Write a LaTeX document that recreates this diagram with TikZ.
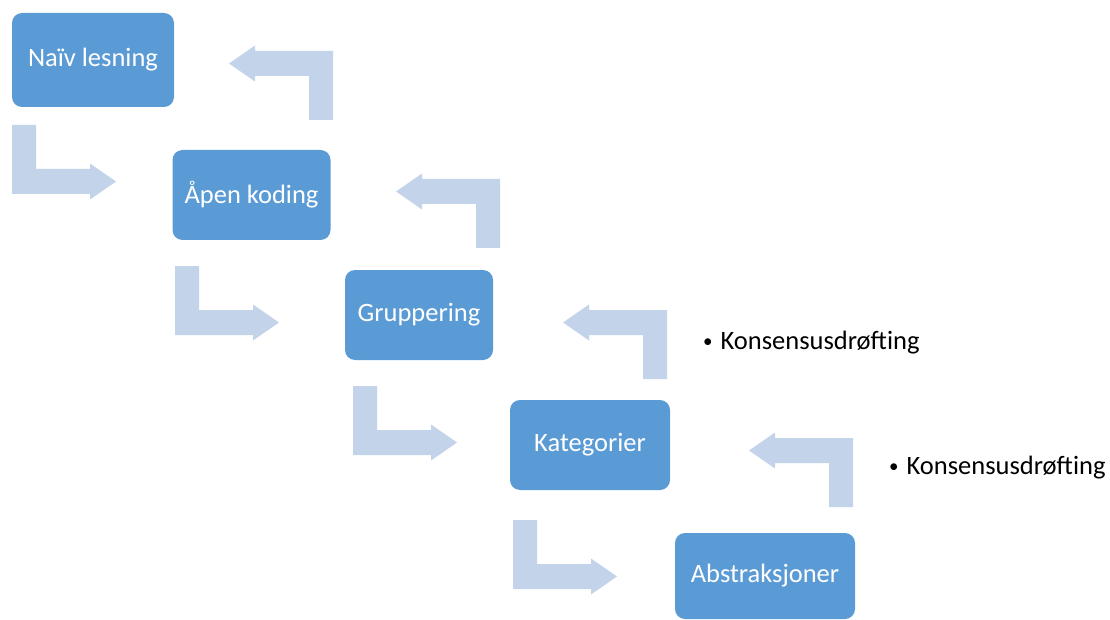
\documentclass[tikz,border=0pt]{standalone}
\usepackage{fontspec}
\setmainfont{Carlito}
\usetikzlibrary{positioning}
\definecolor{boxblue}{HTML}{5B9BD5}
\definecolor{arrowblue}{HTML}{C3D4EA}

\newcommand{\notedot}{\raisebox{2pt}{\fontsize{19}{19}\selectfont•}\hspace{8pt}}

\tikzset{
  stage/.style={rectangle, rounded corners=10pt, fill=boxblue, text=white,
    minimum height=90pt, inner sep=0pt},
  note/.style={anchor=base west, inner sep=0pt},
  bent/.pic={
    \fill[arrowblue] (0,0) -- (24,0) -- (24,44) -- (78,44) -- (78,38.5)
      -- (104,56.5) -- (78,74.5) -- (78,69) -- (0,69) -- cycle;
  }
}

\begin{document}
\begin{tikzpicture}[x=1pt, y=-1pt, font=\fontsize{26.5}{30}\selectfont]

    \useasboundingbox (0,0) rectangle (1110,620);

    \node[stage, minimum width=162pt, minimum height=94pt] (naiv)       at (93,60)    {Naïv lesning};
    \node[stage, minimum width=158pt] (apen)       at (251.5,195) {Åpen koding};
    \node[stage, minimum width=148pt] (gruppering) at (419,315)   {Gruppering};
    \node[stage, minimum width=160pt] (kategorier) at (590,445)   {Kategorier};
    \node[stage, minimum width=180pt, minimum height=86pt] (abstrak) at (765,576) {Abstraksjoner};

    \node[note] (konsensus-0) at (703,349) {\notedot Konsensusdrøfting};
    \node[note] (konsensus-1) at (889,474) {\notedot Konsensusdrøfting};

    % forward steps
    \pic at (12,125)  {bent};
    \pic at (175,266) {bent};
    \pic at (353,386) {bent};
    \pic at (513,520) {bent};

    % back steps
    \pic[rotate=180] at (333,120) {bent};
    \pic[rotate=180] at (500,248) {bent};
    \pic[rotate=180] at (667,379) {bent};
    \pic[rotate=180] at (853,507) {bent};

\end{tikzpicture}
\end{document}
